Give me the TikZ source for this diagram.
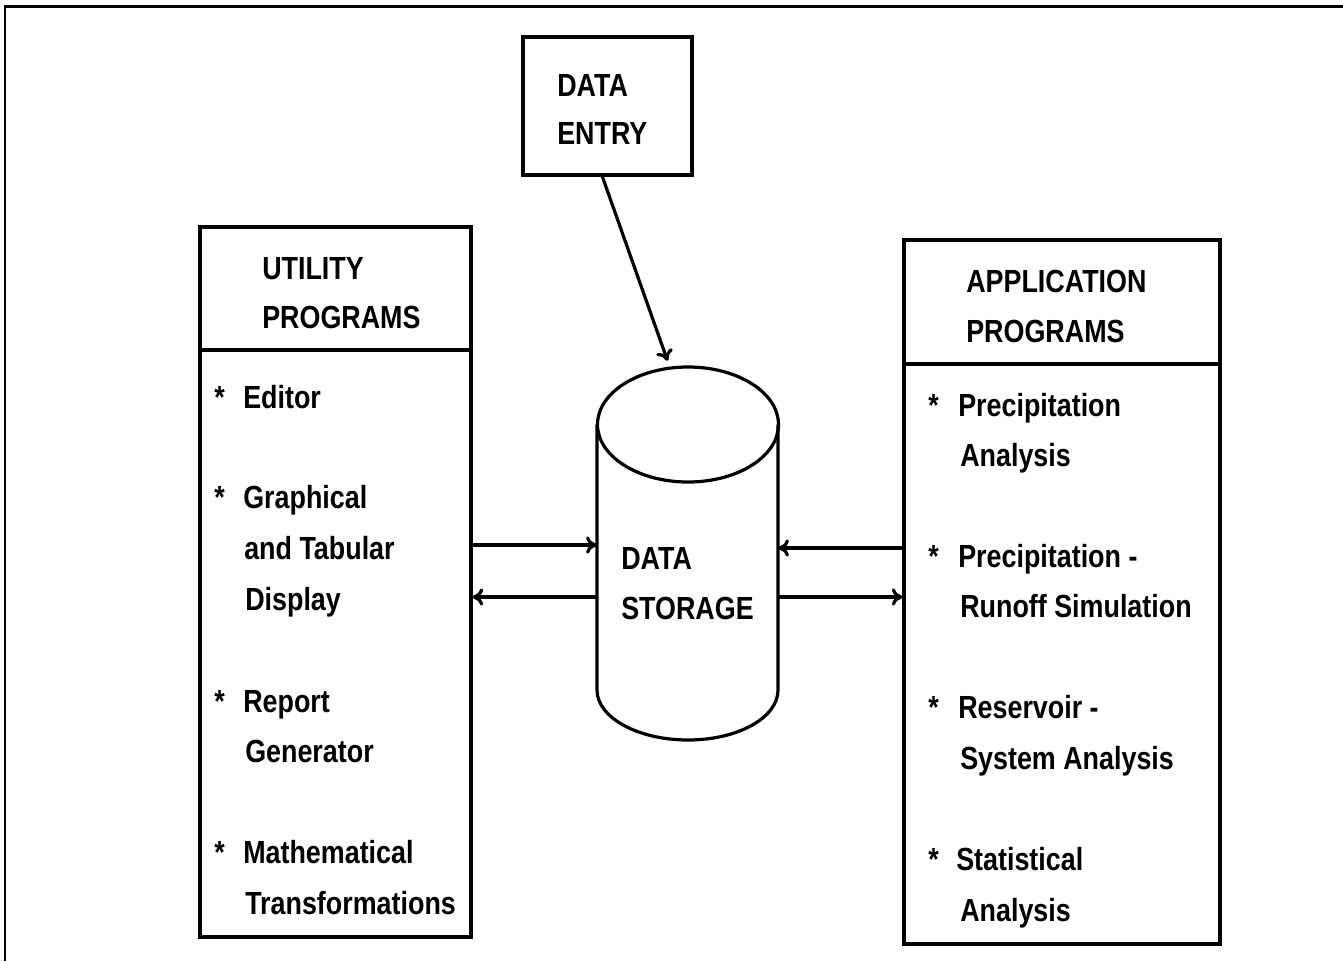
\documentclass[tikz,border=0pt]{standalone}
\usepackage{fontspec}
\newfontfamily\nf{Liberation Sans}[FakeStretch=0.84]
\usetikzlibrary{fit,calc,arrows.meta}
\begin{document}
\begin{tikzpicture}[x=0.75pt,y=-0.75pt,
  boxln/.style={draw, line width=2.3pt, inner sep=0pt},
  txt/.style={anchor=base west, inner sep=0pt, font=\fontsize{24}{28}\selectfont\nf\bfseries},
  arr/.style={line width=2.4pt, -{To[length=8pt,width=13pt]}},
  cyl/.style={line width=2.4pt}]
\useasboundingbox (0,0) rectangle (1343,961);
% outer frame (top and left)
\draw[line width=2.2pt] (5,961) -- (5,6.5) -- (1343,6.5);
% boxes
\node[boxln, fit={(523,37)(692,175)}] (entry) {};
\node[boxln, fit={(200,227)(471,937)}] (util) {};
\node[boxln, fit={(904,240)(1220,944)}] (app) {};
\coordinate (hdU) at (0,350);
\coordinate (hdA) at (0,364);
\draw[line width=2.3pt] (util.west |- hdU) -- (util.east |- hdU);
\draw[line width=2.3pt] (app.west |- hdA) -- (app.east |- hdA);
% cylinder
\node[inner sep=0pt, fit={(597,367)(778,740)}] (store) {};
\draw[cyl] (688,424.5) ellipse [x radius=90.5, y radius=57.5];
\draw[cyl] (597,424.5) -- (597,690) .. controls (597,717.6) and (638,740) .. (688,740)
  .. controls (738,740) and (778,717.6) .. (778,690) -- (778,424.5);
% texts
\node[txt] (t1) at (557,96) {DATA};
\node[txt] (t2) at (557,144) {ENTRY};
\node[txt] (t3) at (262,279) {UTILITY};
\node[txt] (t4) at (262,328) {PROGRAMS};
\node[txt] (s1) at (214,408) {*};
\node[txt] (u1) at (243,408) {Editor};
\node[txt] (s2) at (214,508) {*};
\node[txt] (u2) at (243,508) {Graphical};
\node[txt] (u3) at (244,559) {and Tabular};
\node[txt] (u4) at (245,610) {Display};
\node[txt] (s3) at (214,712) {*};
\node[txt] (u5) at (243,712) {Report};
\node[txt] (u6) at (245,762) {Generator};
\node[txt] (s4) at (214,863) {*};
\node[txt] (u7) at (243,863) {Mathematical};
\node[txt] (u8) at (245,914) {Transformations};
\node[txt] (t5) at (966,292) {APPLICATION};
\node[txt] (t6) at (966,342) {PROGRAMS};
\node[txt] (s5) at (928,416) {*};
\node[txt] (a1) at (958,416) {Precipitation};
\node[txt] (a2) at (960,466) {Analysis};
\node[txt] (s6) at (928,567) {*};
\node[txt] (a3) at (958,567) {Precipitation -};
\node[txt] (a4) at (960,617) {Runoff Simulation};
\node[txt] (s7) at (928,718) {*};
\node[txt] (a5) at (958,718) {Reservoir -};
\node[txt] (a6) at (960,769) {System Analysis};
\node[txt] (s8) at (928,870) {*};
\node[txt] (a7) at (956,870) {Statistical};
\node[txt] (a8) at (960,921) {Analysis};
\node[txt] (d1) at (621,569) {DATA};
\node[txt] (d2) at (621,619) {STORAGE};
% connectors
\coordinate (y1) at (0,545);
\coordinate (y2) at (0,597);
\coordinate (y3) at (0,548);
\draw[arr] (util.east |- y1) -- (store.west |- y1);
\draw[arr] (store.west |- y2) -- (util.east |- y2);
\draw[arr] (app.west |- y3) -- (store.east |- y3);
\draw[arr] (store.east |- y2) -- (app.west |- y2);
\draw[arr] ($(entry.south west)!0.47!(entry.south east)$) -- ($(store.north west)!0.39!(store.north east)+(0,-6)$);
\end{tikzpicture}
\end{document}
